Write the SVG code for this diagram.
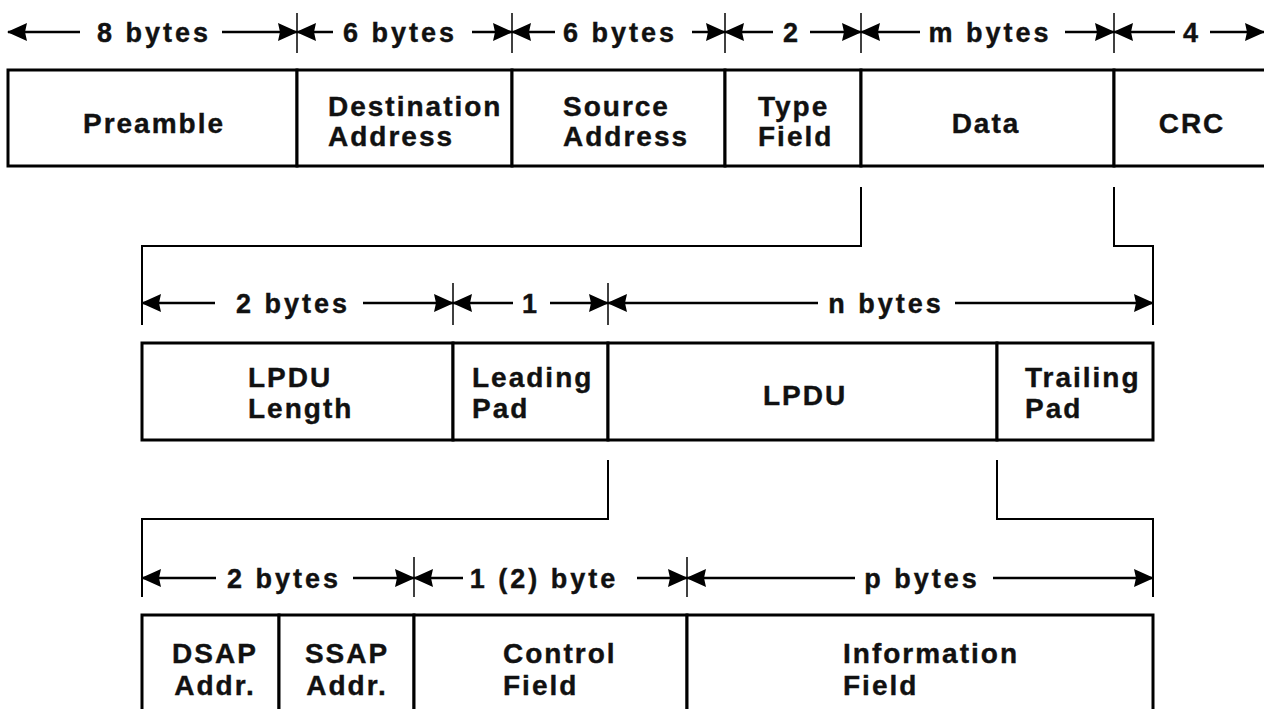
<svg xmlns="http://www.w3.org/2000/svg" width="1264" height="709" viewBox="0 0 1264 709">
<defs>
<marker id="ah" markerUnits="userSpaceOnUse" markerWidth="20" markerHeight="18" refX="19" refY="9" orient="auto-start-reverse" viewBox="0 0 20 18">
<path d="M0,0 L20,9 L0,18 L2,9 z" fill="#000"/>
</marker>
<style>
.f{fill:#fff;stroke:#000;stroke-width:3}
.t{font-family:"Liberation Sans",Arial,sans-serif;font-weight:bold;font-size:28px;letter-spacing:2px;fill:#111;stroke:#111;stroke-width:0.4}
.c{text-anchor:middle}
.d{font-family:"Liberation Sans",Arial,sans-serif;font-weight:bold;font-size:27px;letter-spacing:3px;fill:#111;stroke:#111;stroke-width:0.4;text-anchor:middle}
.dl{stroke:#000;stroke-width:2.5;fill:none}
.s{marker-start:url(#ah)}
.e{marker-end:url(#ah)}
.tk{stroke:#000;stroke-width:1.5}
.cn{stroke:#000;stroke-width:2;fill:none}
</style>
</defs>
<rect width="1264" height="709" fill="#fff"/>

<!-- Top frame -->
<g id="preamble"><rect class="f" x="8" y="70" width="289" height="96"/><text class="t c" x="154" y="133">Preamble</text></g>
<g id="dest-addr"><rect class="f" x="297" y="70" width="215" height="96"/><text class="t" x="328" y="116">Destination</text><text class="t" x="328" y="146">Address</text></g>
<g id="src-addr"><rect class="f" x="512" y="70" width="213" height="96"/><text class="t" x="563" y="116">Source</text><text class="t" x="563" y="146">Address</text></g>
<g id="type-field"><rect class="f" x="725" y="70" width="136" height="96"/><text class="t" x="758" y="116">Type</text><text class="t" x="758" y="146">Field</text></g>
<g id="data"><rect class="f" x="861" y="70" width="253" height="96"/><text class="t c" x="986" y="133">Data</text></g>
<g id="crc"><rect class="f" x="1114" y="70" width="170" height="96"/><text class="t c" x="1192" y="133">CRC</text></g>

<!-- Middle frame -->
<g id="lpdu-length"><rect class="f" x="142" y="343" width="311" height="97"/><text class="t" x="248" y="387">LPDU</text><text class="t" x="248" y="418">Length</text></g>
<g id="leading-pad"><rect class="f" x="453" y="343" width="155" height="97"/><text class="t" x="472" y="387">Leading</text><text class="t" x="472" y="418">Pad</text></g>
<g id="lpdu"><rect class="f" x="608" y="343" width="389" height="97"/><text class="t c" x="805" y="405">LPDU</text></g>
<g id="trailing-pad"><rect class="f" x="997" y="343" width="156" height="97"/><text class="t" x="1025" y="387">Trailing</text><text class="t" x="1025" y="418">Pad</text></g>

<!-- Bottom frame -->
<g id="dsap"><rect class="f" x="142" y="615" width="137" height="120"/><text class="t c" x="215" y="663">DSAP</text><text class="t c" x="215" y="695">Addr.</text></g>
<g id="ssap"><rect class="f" x="279" y="615" width="135" height="120"/><text class="t c" x="347" y="663">SSAP</text><text class="t c" x="347" y="695">Addr.</text></g>
<g id="control"><rect class="f" x="414" y="615" width="273" height="120"/><text class="t" x="503" y="663">Control</text><text class="t" x="503" y="695">Field</text></g>
<g id="information"><rect class="f" x="687" y="615" width="466" height="120"/><text class="t" x="843" y="663">Information</text><text class="t" x="843" y="695">Field</text></g>

<!-- Connectors -->
<g id="connectors">
<path class="cn" d="M861,187 V246 H142 V325"/>
<path class="cn" d="M1114,187 V246 H1153 V325"/>
<path class="cn" d="M608,460 V519 H142 V597"/>
<path class="cn" d="M997,460 V519 H1153 V597"/>
</g>

<!-- Dimension lines -->
<g id="dims-top">
<line class="tk" x1="297" y1="13" x2="297" y2="53"/>
<line class="tk" x1="512" y1="13" x2="512" y2="53"/>
<line class="tk" x1="725" y1="13" x2="725" y2="53"/>
<line class="tk" x1="861" y1="13" x2="861" y2="53"/>
<line class="tk" x1="1114" y1="13" x2="1114" y2="53"/>
<line class="dl s" x1="8" y1="32" x2="80" y2="32"/><line class="dl e" x1="222" y1="32" x2="297" y2="32"/><text class="d" x="154" y="42">8 bytes</text>
<line class="dl s" x1="297" y1="32" x2="333" y2="32"/><line class="dl e" x1="472" y1="32" x2="512" y2="32"/><text class="d" x="400" y="42">6 bytes</text>
<line class="dl s" x1="512" y1="32" x2="555" y2="32"/><line class="dl e" x1="692" y1="32" x2="725" y2="32"/><text class="d" x="620" y="42">6 bytes</text>
<line class="dl s" x1="725" y1="32" x2="773" y2="32"/><line class="dl e" x1="810" y1="32" x2="861" y2="32"/><text class="d" x="792" y="42">2</text>
<line class="dl s" x1="861" y1="32" x2="920" y2="32"/><line class="dl e" x1="1065" y1="32" x2="1114" y2="32"/><text class="d" x="990" y="42">m bytes</text>
<line class="dl s" x1="1114" y1="32" x2="1175" y2="32"/><line class="dl e" x1="1210" y1="32" x2="1264" y2="32"/><text class="d" x="1192" y="42">4</text>
</g>
<g id="dims-middle">
<line class="tk" x1="453" y1="283" x2="453" y2="325"/>
<line class="tk" x1="608" y1="283" x2="608" y2="325"/>
<line class="dl s" x1="142" y1="303" x2="215" y2="303"/><line class="dl e" x1="363" y1="303" x2="453" y2="303"/><text class="d" x="293" y="313">2 bytes</text>
<line class="dl s" x1="453" y1="303" x2="513" y2="303"/><line class="dl e" x1="550" y1="303" x2="608" y2="303"/><text class="d" x="531" y="313">1</text>
<line class="dl s" x1="608" y1="303" x2="818" y2="303"/><line class="dl e" x1="955" y1="303" x2="1153" y2="303"/><text class="d" x="886" y="313">n bytes</text>
</g>
<g id="dims-bottom">
<line class="tk" x1="414" y1="557" x2="414" y2="597"/>
<line class="tk" x1="687" y1="557" x2="687" y2="597"/>
<line class="dl s" x1="142" y1="578" x2="216" y2="578"/><line class="dl e" x1="353" y1="578" x2="414" y2="578"/><text class="d" x="284" y="588">2 bytes</text>
<line class="dl s" x1="414" y1="578" x2="463" y2="578"/><line class="dl e" x1="637" y1="578" x2="687" y2="578"/><text class="d" x="544" y="588">1 (2) byte</text>
<line class="dl s" x1="687" y1="578" x2="855" y2="578"/><line class="dl e" x1="993" y1="578" x2="1153" y2="578"/><text class="d" x="922" y="588">p bytes</text>
</g>
</svg>
